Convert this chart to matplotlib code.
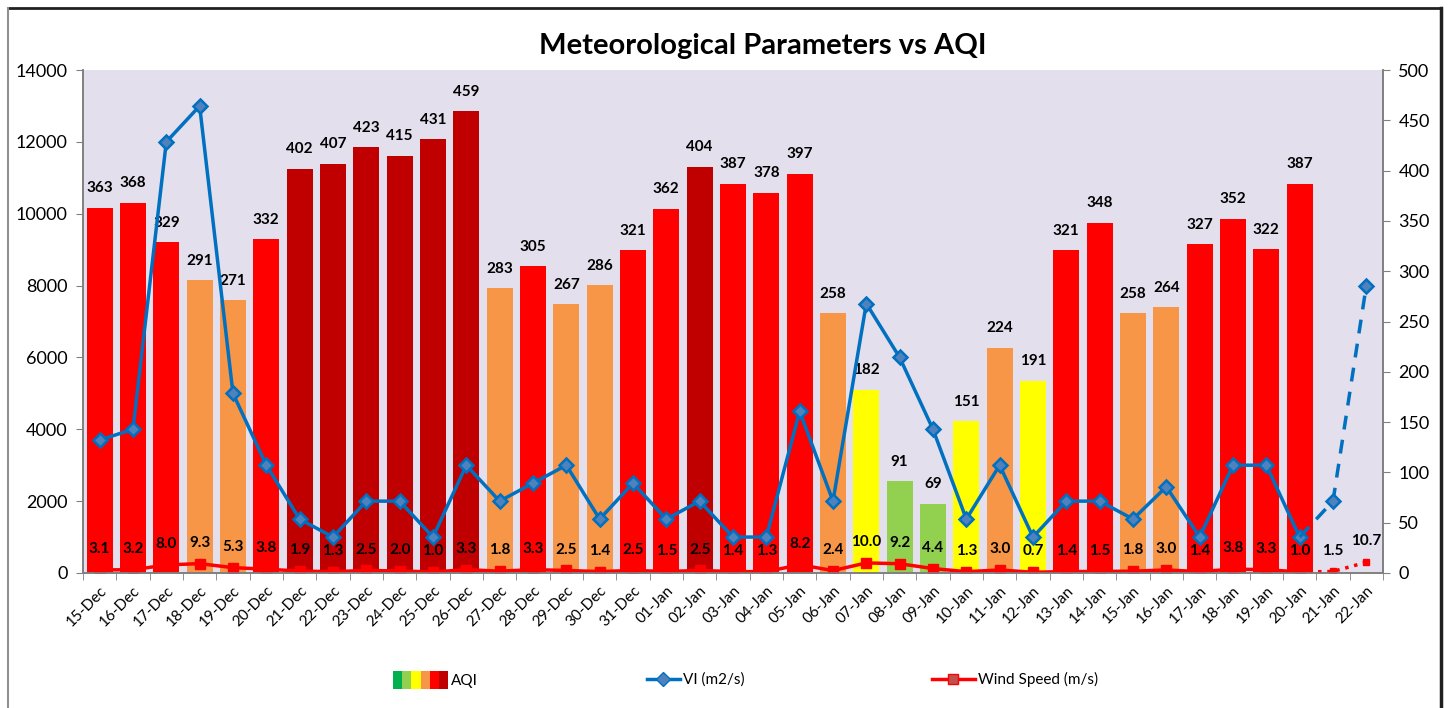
import matplotlib

matplotlib.use("Agg")

import matplotlib.pyplot as plt  # noqa: E402
from matplotlib.legend_handler import HandlerTuple  # noqa: E402
from matplotlib.lines import Line2D  # noqa: E402
from matplotlib.patches import Patch  # noqa: E402
import numpy as np  # noqa: E402

plt.rcParams["font.family"] = ["Lato", "DejaVu Sans"]

# ── Data ────────────────────────────────────────────────────────────────────
dates = [
    "15-Dec", "16-Dec", "17-Dec", "18-Dec", "19-Dec", "20-Dec", "21-Dec",
    "22-Dec", "23-Dec", "24-Dec", "25-Dec", "26-Dec", "27-Dec", "28-Dec",
    "29-Dec", "30-Dec", "31-Dec", "01-Jan", "02-Jan", "03-Jan", "04-Jan",
    "05-Jan", "06-Jan", "07-Jan", "08-Jan", "09-Jan", "10-Jan", "11-Jan",
    "12-Jan", "13-Jan", "14-Jan", "15-Jan", "16-Jan", "17-Jan", "18-Jan",
    "19-Jan", "20-Jan", "21-Jan", "22-Jan",
]
aqi = [
    363, 368, 329, 291, 271, 332, 402, 407, 423, 415, 431, 459, 283, 305,
    267, 286, 321, 362, 404, 387, 378, 397, 258, 182, 91, 69, 151, 224,
    191, 321, 348, 258, 264, 327, 352, 322, 387, None, None,
]
wind = [
    3.1, 3.2, 8.0, 9.3, 5.3, 3.8, 1.9, 1.3, 2.5, 2.0, 1.0, 3.3, 1.8, 3.3,
    2.5, 1.4, 2.5, 1.5, 2.5, 1.4, 1.3, 8.2, 2.4, 10.0, 9.2, 4.4, 1.3, 3.0,
    0.7, 1.4, 1.5, 1.8, 3.0, 1.4, 3.8, 3.3, 1.0, 1.5, 10.7,
]
vi = [
    3700, 4000, 12000, 13000, 5000, 3000, 1500, 1000, 2000, 2000, 1000,
    3000, 2000, 2500, 3000, 1500, 2500, 1500, 2000, 1000, 1000, 4500, 2000,
    7500, 6000, 4000, 1500, 3000, 1000, 2000, 2000, 1500, 2400, 1000, 3000,
    3000, 1000, 2000, 8000,
]
n_observed = 37  # 15-Dec .. 20-Jan observed, 21/22-Jan forecast

# AQI category bands (upper limit, colour)
aqi_bands = [
    (50, "#00b050"),
    (100, "#92d050"),
    (200, "#ffff00"),
    (300, "#f79646"),
    (400, "#ff0000"),
    (500, "#c00000"),
]


def aqi_color(v):
    for upper, c in aqi_bands:
        if v <= upper:
            return c
    return aqi_bands[-1][1]


fig = plt.figure(figsize=(14.48, 7.08), dpi=100)
ax_r = fig.add_axes((0.0573, 0.1907, 0.8978, 0.7104))
ax_l = ax_r.twinx()
# left axis holds VI (drawn on top), right axis holds AQI bars + wind
ax_l.yaxis.tick_left()
ax_l.yaxis.set_label_position("left")
ax_r.yaxis.tick_right()
ax_r.set_zorder(1)
ax_l.set_zorder(2)
ax_l.patch.set_visible(False)
ax_r.set_facecolor("#e4dfec")

x = np.arange(len(dates))

# ── AQI bars ────────────────────────────────────────────────────────────────
bar_x = [i for i, v in enumerate(aqi) if v is not None]
bar_v = [v for v in aqi if v is not None]
ax_r.bar(bar_x, bar_v, width=0.78, color=[aqi_color(v) for v in bar_v], zorder=2)
for i, v in zip(bar_x, bar_v):
    ax_r.annotate(
        f"{v}", (i, v), xytext=(0, 14), textcoords="offset points",
        ha="center", va="center", fontsize=11, fontweight="bold", zorder=5,
    )

# ── Wind speed (right axis) ─────────────────────────────────────────────────
ax_r.plot(
    x[:n_observed], wind[:n_observed], "-s", color="#ff0000", lw=2.5, ms=7,
    mfc="#ff0000", mec="#ff0000", zorder=3,
)
ax_r.plot(
    x[n_observed - 1:], wind[n_observed - 1:], ":s", color="#ff0000", lw=2.5,
    ms=5, zorder=3,
)
for i, v in enumerate(wind):
    ax_r.annotate(
        f"{v:.1f}", (i, v), xytext=(0, 15), textcoords="offset points",
        ha="center", va="center", fontsize=11, fontweight="bold", zorder=5,
    )

# ── VI (left axis) ──────────────────────────────────────────────────────────
ax_l.plot(
    x[:n_observed], vi[:n_observed], "-D", color="#0070c0", lw=2.5, ms=7,
    mfc="#4f81bd", mec="#0070c0", mew=1.8,
)
ax_l.plot(
    x[n_observed - 1:], vi[n_observed - 1:], "--D", color="#0070c0", lw=2.5,
    ms=7, mfc="#4f81bd", mec="#0070c0", mew=1.8, dashes=(4, 3),
    markevery=[1, 2],
)

# ── Axes styling ────────────────────────────────────────────────────────────
ax_l.set_ylim(0, 14000)
ax_l.set_yticks(np.arange(0, 14001, 2000))
ax_r.set_ylim(0, 500)
ax_r.set_yticks(np.arange(0, 501, 50))
ax_r.set_xlim(-0.5, len(dates) - 0.5)
ax_r.set_xticks(x)
ax_r.set_xticklabels(dates, rotation=45, ha="right", rotation_mode="anchor", fontsize=11)
ax_r.set_xticks(np.arange(-0.5, len(dates), 1.0), minor=True)
ax_r.tick_params(axis="x", which="major", length=0, pad=8)
ax_r.tick_params(axis="x", which="minor", length=5, color="#808080")
ax_r.tick_params(axis="y", length=5, color="#808080", labelsize=13, pad=6)
ax_l.tick_params(axis="y", length=5, color="#808080", labelsize=13, pad=6)

for a in (ax_l, ax_r):
    a.spines["top"].set_visible(False)
    for s in ("left", "right", "bottom"):
        a.spines[s].set_color("#808080")
        a.spines[s].set_linewidth(1.2)

fig.suptitle(
    "Meteorological Parameters vs AQI", x=0.527, y=0.935, va="center",
    fontsize=21, fontweight="bold",
)

# ── Legend (three separate entries along the bottom) ───────────────────────
aqi_handle = tuple(Patch(facecolor=c, edgecolor="none") for _, c in aqi_bands)
fig.legend(
    [aqi_handle], ["AQI"], handler_map={tuple: HandlerTuple(ndivide=None, pad=0)},
    loc="center left", bbox_to_anchor=(0.262, 0.04), frameon=False,
    fontsize=11, handlelength=3.6, handleheight=1.4, handletextpad=0.2,
)
fig.legend(
    [Line2D([], [], color="#0070c0", lw=2.5, marker="D", ms=7,
            mfc="#4f81bd", mec="#0070c0")],
    ["VI (m2/s)"], loc="center left", bbox_to_anchor=(0.437, 0.04),
    frameon=False, fontsize=11, handlelength=2.2, handletextpad=0.2,
)
fig.legend(
    [Line2D([], [], color="#ff0000", lw=2.5, marker="s", ms=7,
            mfc="#c0504d", mec="#ff0000")],
    ["Wind Speed (m/s)"], loc="center left", bbox_to_anchor=(0.634, 0.04),
    frameon=False, fontsize=11, handlelength=2.8, handletextpad=0.2,
)

# chart border
fig.add_artist(Line2D([0.0055, 0.995], [0.989, 0.989], color="#202020", lw=2))
fig.add_artist(Line2D([0.0055, 0.0055], [0.0, 0.989], color="#909090", lw=1.5))
fig.add_artist(Line2D([0.995, 0.995], [0.0, 0.989], color="#202020", lw=2.5))

fig.savefig("out.png", dpi=100)
